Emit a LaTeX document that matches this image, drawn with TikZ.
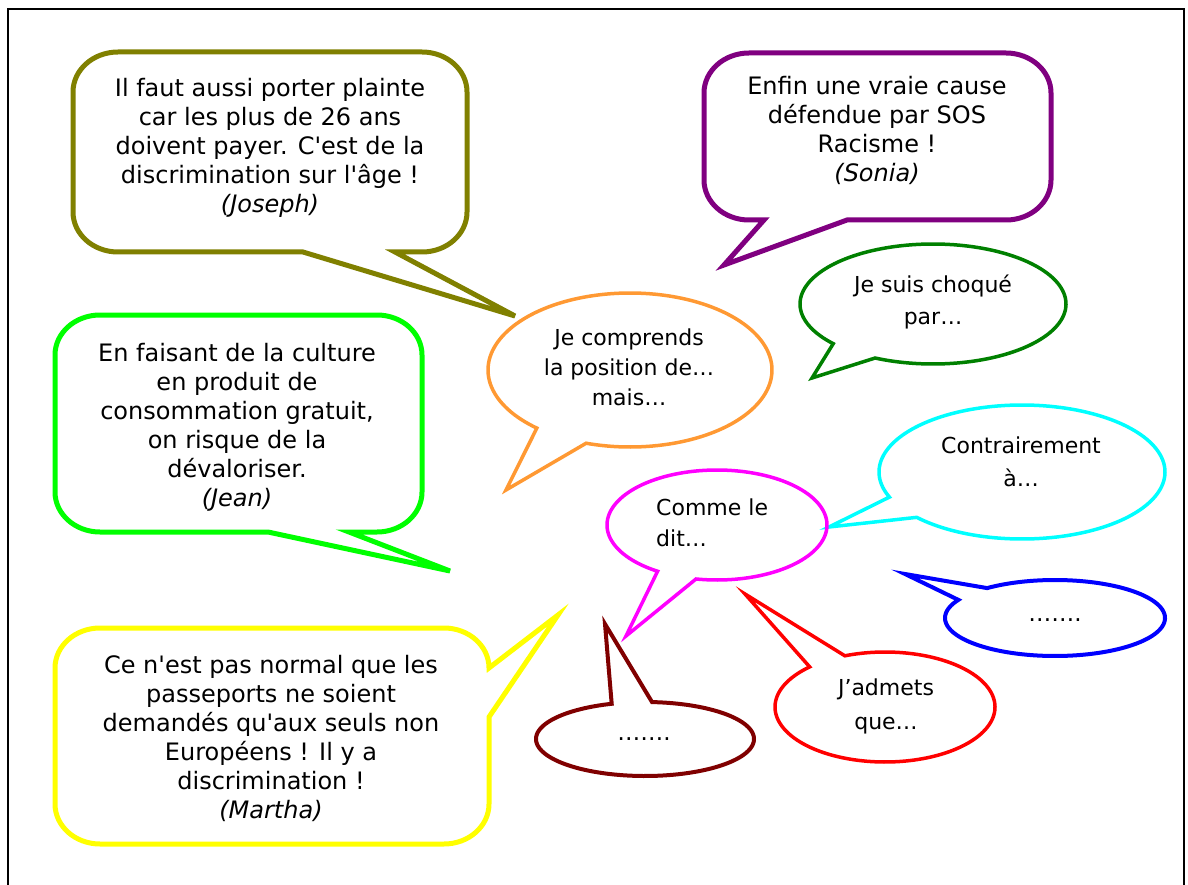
\documentclass[tikz,border=0pt]{standalone}
\usepackage{fontspec}
\setmainfont{DejaVu Sans}[Ligatures=TeXOff]
\definecolor{oliveline}{HTML}{808000}
\definecolor{purpleline}{HTML}{800080}
\definecolor{limeline}{HTML}{00FF00}
\definecolor{yellowline}{HTML}{FFFF00}
\definecolor{orangeline}{HTML}{FF9933}
\definecolor{greenline}{HTML}{008000}
\definecolor{cyanline}{HTML}{00FFFF}
\definecolor{magentaline}{HTML}{FF00FF}
\definecolor{blueline}{HTML}{0000FF}
\definecolor{redline}{HTML}{FF0000}
\definecolor{maroonline}{HTML}{800000}

\begin{document}
\begin{tikzpicture}[x=1pt, y=-1pt,
   every node/.style={align=center, inner sep=0pt, text=black},
   bigbubble/.style={line width=5pt},
   smallbubble/.style={line width=3.5pt},
   bigtext/.style={font=\fontsize{24}{29}\selectfont},
   smalltext/.style={font=\fontsize{22}{30}\selectfont},
   dots/.style={font=\fontsize{23}{24}\selectfont}]

\useasboundingbox (0,0) rectangle (1188,885);
\draw[line width=2pt] (7.5,890) -- (7.5,9.5) -- (1184,9.5) -- (1184,890);

% boxes with a name under the text
\coordinate (jtip) at (515,316);
\draw[bigbubble, oliveline] (395,252) -- (422,252)
    arc[start angle=90, end angle=0, x radius=45, y radius=40] -- (467,92)
    arc[start angle=0, end angle=-90, x radius=45, y radius=40] -- (118,52)
    arc[start angle=-90, end angle=-180, x radius=45, y radius=40] -- (73,212)
    arc[start angle=180, end angle=90, x radius=45, y radius=40] -- (303,252)
    -- (jtip) -- cycle;
\node[bigtext] (joseph) at (270,148) {Il faut aussi porter plainte\\car les plus de 26 ans\\doivent payer. C'est de la\\discrimination sur l'âge !\\\textit{(Joseph)}};

\coordinate (stip) at (724,265);
\draw[bigbubble, purpleline] (847,220) -- (1006,220)
    arc[start angle=90, end angle=0, x radius=45, y radius=40] -- (1051,93)
    arc[start angle=0, end angle=-90, x radius=45, y radius=40] -- (749,53)
    arc[start angle=-90, end angle=-180, x radius=45, y radius=40] -- (704,180)
    arc[start angle=180, end angle=90, x radius=45, y radius=40] -- (764,220)
    -- (stip) -- cycle;
\node[bigtext] (sonia) at (877,130) {Enfin une vraie cause\\défendue par SOS\\Racisme !\\\textit{(Sonia)}};

\coordinate (jntip) at (450,571);
\draw[bigbubble, limeline] (349,532) -- (377,532)
    arc[start angle=90, end angle=0, x radius=45, y radius=40] -- (422,355)
    arc[start angle=0, end angle=-90, x radius=45, y radius=40] -- (100,315)
    arc[start angle=-90, end angle=-180, x radius=45, y radius=40] -- (55,492)
    arc[start angle=180, end angle=90, x radius=45, y radius=40] -- (268,532)
    -- (jntip) -- cycle;
\node[bigtext] (jean) at (237,427) {En faisant de la culture\\en produit de\\consommation gratuit,\\on risque de la\\dévaloriser.\\\textit{(Jean)}};

\coordinate (mtip) at (558,615);
\draw[bigbubble, yellowline] (489,717) -- (489,804)
    arc[start angle=0, end angle=90, x radius=45, y radius=40] -- (100,844)
    arc[start angle=90, end angle=180, x radius=45, y radius=40] -- (55,668)
    arc[start angle=180, end angle=270, x radius=45, y radius=40] -- (444,628)
    arc[start angle=270, end angle=360, x radius=45, y radius=40]
    -- (mtip) -- cycle;
\node[bigtext] (martha) at (271,738) {Ce n'est pas normal que les\\passeports ne soient\\demandés qu'aux seuls non\\Européens ! Il y a\\discrimination !\\\textit{(Martha)}};

% round bubbles
\coordinate (otip) at (506,490);
\draw[smallbubble, orangeline] (otip) -- plot[domain=131:468, samples=150] ({630+142*cos(\x)}, {370+77*sin(\x)}) -- cycle;
\node[smalltext] (comprends) at (629,367) {Je comprends\\la position de…\\mais…};

\coordinate (gtip) at (812,378);
\draw[smallbubble, greenline] (gtip) -- plot[domain=138.6:475.8, samples=150] ({933+133*cos(\x)}, {304+60*sin(\x)}) -- cycle;
\node[smalltext, font=\fontsize{22}{32}\selectfont] (choque) at (933,302) {Je suis choqué\\par…};

\coordinate (ctip) at (829,527);
\draw[smallbubble, cyanline] (ctip) -- plot[domain=158:497.4, samples=150] ({1022+143*cos(\x)}, {472+67*sin(\x)}) -- cycle;
\node[smalltext, font=\fontsize{22}{33}\selectfont] (contraire) at (1021,462) {Contrairement\\à…};

\coordinate (dtip) at (626,636);
\draw[smallbubble, magentaline] (dtip) -- plot[domain=122.7:461, samples=150] ({717+110*cos(\x)}, {525+55*sin(\x)}) -- cycle;
\node[smalltext, align=left, anchor=west, font=\fontsize{22}{31}\selectfont] (commele) at (656,523) {Comme le\\dit…};

\coordinate (btip) at (905,574);
\draw[line width=4pt, blueline] (btip) -- plot[domain=-128.1:208.5, samples=150] ({1055+110*cos(\x)}, {618+38*sin(\x)}) -- cycle;
\node[dots] (points) at (1055,620) {…….};

\coordinate (rtip) at (745,594);
\draw[smallbubble, redline] (rtip) -- plot[domain=-111.4:226.8, samples=150] ({885+110*cos(\x)}, {707+55*sin(\x)}) -- cycle;
\node[smalltext, font=\fontsize{22}{34}\selectfont] (admets) at (886,706) {J’admets\\que…};

\coordinate (ktip) at (605,624);
\draw[line width=4pt, maroonline] (ktip) -- plot[domain=273.7:612.2, samples=150] ({645+109*cos(\x)}, {739+37*sin(\x)}) -- cycle;
\node[dots] (autres) at (644,739) {…….};

\end{tikzpicture}
\end{document}
